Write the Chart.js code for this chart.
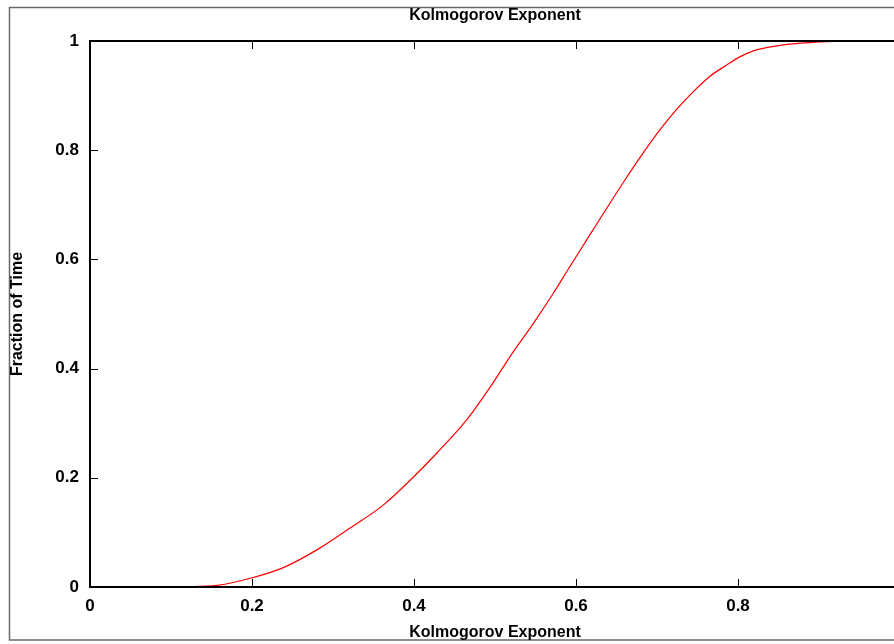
<!DOCTYPE html>
<html>
<head>
<meta charset="utf-8">
<script src="https://cdn.jsdelivr.net/npm/chart.js@4/dist/chart.umd.min.js"></script>
<style>
  html, body { margin: 0; padding: 0; background: #fff; overflow: hidden; }
  #wrap { position: absolute; left: 0; top: 0; width: 990px; height: 644px; }
</style>
</head>
<body>
<div id="wrap"><canvas id="cdfChart"></canvas></div>
<script>
// cumulative fraction of time vs Kolmogorov exponent
const exponentValues = [0.0, 0.100, 0.115, 0.157, 0.198, 0.238, 0.280, 0.321, 0.362, 0.399,
    0.428, 0.465, 0.494, 0.519, 0.547, 0.572, 0.590, 0.621, 0.658, 0.683,
    0.704, 0.725, 0.744, 0.765, 0.786, 0.801, 0.819, 0.848, 0.877, 0.910,
    0.942, 1.0];
const fractionValues = [0, 0, 0.0005, 0.003, 0.016, 0.035, 0.068, 0.108, 0.150, 0.201,
    0.245, 0.306, 0.366, 0.423, 0.482, 0.538, 0.581, 0.654, 0.740, 0.795,
    0.838, 0.876, 0.906, 0.935, 0.956, 0.970, 0.982, 0.991, 0.996, 0.999,
    1.0, 1.0];
const xTickValues = [0, 0.2, 0.4, 0.6, 0.8, 1];
const yTickValues = [0, 0.2, 0.4, 0.6, 0.8, 1];

const FONT = "'Liberation Sans', Arial, sans-serif";

const points = exponentValues.map((x, i) => ({ x: x, y: fractionValues[i] }));

function fmt(v) { return String(+(+v).toFixed(1)); }

// page frame behind everything, plot frame + inward ticks on top
const framePlugin = {
    id: "frame",
    beforeDraw(chart) {
        const ctx = chart.ctx;
        ctx.save();
        ctx.fillStyle = "#fff";
        ctx.fillRect(0, 0, chart.width, chart.height);
        ctx.strokeStyle = "#6a6a6a";
        ctx.lineWidth = 1.5;
        ctx.beginPath();
        ctx.moveTo(chart.width, 7.5);
        ctx.lineTo(9.5, 7.5);
        ctx.lineTo(9.5, 640);
        ctx.lineTo(chart.width, 640);
        ctx.stroke();
        ctx.restore();
    },
    afterDatasetsDraw(chart) {
        const ctx = chart.ctx;
        const a = chart.chartArea;
        const xs = chart.scales.x, ys = chart.scales.y;
        ctx.save();
        ctx.strokeStyle = "#000";
        ctx.lineWidth = 1;
        ctx.beginPath();
        xTickValues.forEach(v => {
            const px = Math.round(xs.getPixelForValue(v)) + 0.5;
            ctx.moveTo(px, a.bottom); ctx.lineTo(px, a.bottom - 8);
            ctx.moveTo(px, a.top); ctx.lineTo(px, a.top + 8);
        });
        yTickValues.forEach(v => {
            const py = Math.round(ys.getPixelForValue(v)) + 0.5;
            ctx.moveTo(a.left, py); ctx.lineTo(a.left + 8, py);
        });
        ctx.stroke();
        ctx.lineWidth = 2;
        ctx.beginPath();
        ctx.moveTo(a.right + 40, a.top);
        ctx.lineTo(a.left, a.top);
        ctx.lineTo(a.left, a.bottom);
        ctx.lineTo(a.right + 40, a.bottom);
        ctx.stroke();
        ctx.restore();
    }
};

new Chart(document.getElementById("cdfChart").getContext("2d"), {
    type: "line",
    data: {
        datasets: [{
            label: "Kolmogorov Exponent",
            data: points,
            borderColor: "#ff0000",
            borderWidth: 1.2,
            pointRadius: 0,
            fill: false,
            cubicInterpolationMode: "monotone"
        }]
    },
    options: {
        responsive: true,
        maintainAspectRatio: false,
        animation: false,
        layout: { padding: { left: 8, right: 90, top: 0, bottom: 2 } },
        plugins: {
            legend: { display: false },
            tooltip: { enabled: false },
            title: {
                display: true,
                fullSize: false,
                text: "Kolmogorov Exponent",
                color: "#000",
                font: { family: FONT, size: 16, weight: "bold" },
                padding: { top: 6, bottom: 15.8 }
            }
        },
        scales: {
            x: {
                type: "linear",
                min: 0,
                max: 1,
                grid: { display: false, drawTicks: false },
                border: { display: false },
                ticks: {
                    stepSize: 0.2,
                    padding: 9,
                    color: "#000",
                    maxRotation: 0,
                    font: { family: FONT, size: 17, weight: "bold" },
                    callback: fmt
                },
                title: {
                    display: true,
                    text: "Kolmogorov Exponent",
                    color: "#000",
                    padding: 0,
                    font: { family: FONT, size: 16, weight: "bold" }
                },
                afterFit(scale) { scale.height = 55; }
            },
            y: {
                min: 0,
                max: 1,
                grid: { display: false, drawTicks: false },
                border: { display: false },
                ticks: {
                    stepSize: 0.2,
                    padding: 11,
                    color: "#000",
                    font: { family: FONT, size: 17, weight: "bold" },
                    callback: fmt
                },
                title: {
                    display: true,
                    text: "Fraction of Time",
                    color: "#000",
                    padding: 0,
                    font: { family: FONT, size: 16, weight: "bold" }
                },
                afterFit(scale) { scale.width = 82; }
            }
        }
    },
    plugins: [framePlugin]
});
</script>
</body>
</html>
